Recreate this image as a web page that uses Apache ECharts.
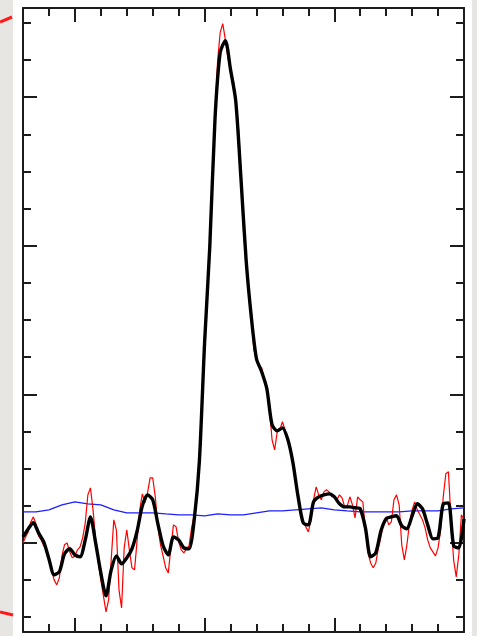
<!DOCTYPE html>
<html>
<head>
<meta charset="utf-8">
<script src="https://cdn.jsdelivr.net/npm/echarts@6.0.0/dist/echarts.min.js"></script>
<style>
  html, body { margin: 0; padding: 0; }
  body {
    width: 477px; height: 636px; overflow: hidden;
    background: linear-gradient(to right, #e8e6e3 13px, #ffffff 13px, #ffffff 472px, #e8e6e3 472px);
  }
  #chart { width: 477px; height: 636px; }
</style>
</head>
<body>
<div id="chart"></div>
<script>
// Raw trace, one value per sample
const rawTrace = [
  0.00, 0.40, 0.74, 1.41, 1.75, 1.28, 0.47, 0.20, -0.20, -0.34,
  -1.14, -1.82, -2.49, -2.83, -2.36, -0.88, -0.13, 0.00, -0.61, -1.01,
  -0.88, -0.47, -0.27, 0.34, 1.35, 3.23, 3.70, 2.22, 0.20, -1.28,
  -2.49, -3.57, -4.65, -3.84, -1.14, 1.55, 0.88, -3.16, -4.38, -0.34,
  0.88, -0.47, -1.68, -1.82, 0.20, 2.22, 3.30, 2.69, 3.37, 4.38,
  4.38, 3.10, 1.08, -0.13, -0.88, -1.68, -2.02, -0.34, 1.21, 1.08,
  0.07, -0.47, -0.67, -0.40, -0.20, 1.01, 1.89, 3.03, 5.45, 9.29,
  13.33, 16.36, 20.07, 23.77, 28.48, 32.39, 34.34, 34.95, 33.87, 32.66,
  31.72, 31.18, 30.03, 28.15, 24.98, 20.94, 18.92, 17.17, 15.15, 13.00,
  12.32, 11.99, 11.78, 10.98, 10.30, 9.09, 6.94, 6.26, 7.47, 7.61,
  8.15, 7.61, 6.94, 6.40, 5.45, 4.38, 3.16, 2.09, 1.41, 1.08,
  0.74, 1.55, 2.90, 3.77, 3.23, 2.90, 3.43, 3.57, 3.43, 3.10,
  3.16, 2.90, 3.23, 3.03, 2.42, 2.49, 3.10, 2.56, 1.68, 3.10,
  2.90, 2.76, 0.88, -0.67, -1.35, -1.68, -1.35, -0.34, 0.40, 1.41,
  1.75, 1.21, 1.41, 2.90, 3.23, 2.56, -0.13, -1.14, -0.13, 1.35,
  2.22, 2.76, 2.22, 1.89, 1.55, 1.01, 0.20, -0.34, -0.61, -0.88,
  -0.34, 0.88, 3.10, 4.65, 4.78, 1.55, -1.14, -2.29, -0.81, 1.89,
  1.55
];

// Smoothed trace, every second sample
const smoothStep = 2;
const smoothTrace = [
  0.40, 0.94, 1.35, 0.67, 0.07, -1.08, -2.15, -1.95, -0.74, -0.40,
  -0.81, -0.94, 0.20, 1.75, 0.00, -2.02, -3.57, -1.82, -0.88, -1.41,
  -1.01, -0.40, 0.81, 2.49, 3.23, 2.90, 1.28, -0.20, -0.81, 0.40,
  0.20, -0.34, -0.40, 1.55, 5.52, 13.47, 19.93, 28.48, 33.00, 33.80,
  31.85, 29.76, 24.58, 19.06, 15.22, 12.39, 11.52, 10.37, 7.95, 7.54,
  7.74, 7.00, 5.45, 3.16, 1.35, 1.21, 2.76, 3.10, 3.23, 3.30,
  3.10, 2.63, 2.42, 2.42, 2.36, 2.29, 1.01, -0.94, -0.67, 0.81,
  1.62, 1.75, 1.82, 1.14, 0.94, 1.82, 2.63, 2.29, 1.21, 0.27,
  0.34, 2.63, 2.69, -0.20, -0.34, 1.62
];

// Baseline, every fifth sample
const baseStep = 5;
const baseline = [
  2.09, 2.09, 2.22, 2.56, 2.76, 2.63, 2.56, 2.22, 2.02, 2.02,
  2.02, 1.95, 1.89, 1.89, 1.82, 1.95, 1.89, 1.89, 2.02, 2.15,
  2.15, 2.22, 2.29, 2.36, 2.22, 2.15, 2.09, 2.09, 2.09, 2.09,
  2.15, 2.15, 2.15, 2.29, 2.36
];

// Axis ticks
const xMinorTicks = [10, 20, 30, 40, 50, 60, 70, 80, 90, 100, 110, 120, 130, 140, 150, 160];
const xMajorTicks = [20, 70, 120];
const yMinorTicks = [-5, -2.5, 0, 2.5, 5, 7.5, 10, 12.5, 15, 17.5, 20, 22.5, 25, 27.5, 30, 32.5, 35];
const yMajorTicks = [0, 10, 20, 30];

const X_MIN = 0, X_MAX = 170, Y_MIN = -6, Y_MAX = 36;

const toPairs = (vals, step) => vals.map((v, j) => [j * step, v]);

const frameStyle = { color: '#1c1c1c', width: 2 };

function xAx(position, ticks, len, showLine) {
  return {
    type: 'value', position, min: X_MIN, max: X_MAX,
    axisLine: { show: showLine, onZero: false, lineStyle: frameStyle },
    axisTick: { show: true, inside: true, length: len, customValues: ticks, lineStyle: frameStyle },
    axisLabel: { show: false },
    splitLine: { show: false }
  };
}
function yAx(position, ticks, len, showLine) {
  return {
    type: 'value', position, min: Y_MIN, max: Y_MAX,
    axisLine: { show: showLine, onZero: false, lineStyle: frameStyle },
    axisTick: { show: true, inside: true, length: len, customValues: ticks, lineStyle: frameStyle },
    axisLabel: { show: false },
    splitLine: { show: false }
  };
}

const chart = echarts.init(document.getElementById('chart'), null, { renderer: 'canvas' });
chart.setOption({
  animation: false,
  backgroundColor: 'transparent',
  grid: { left: 23, right: 13, top: 8, bottom: 4, containLabel: false },
  xAxis: [
    xAx('bottom', xMinorTicks, 8, true),
    xAx('bottom', xMajorTicks, 14, false),
    xAx('top', xMinorTicks, 8, true),
    xAx('top', xMajorTicks, 14, false)
  ],
  yAxis: [
    yAx('left', yMinorTicks, 8, true),
    yAx('left', yMajorTicks, 14, false),
    yAx('right', yMinorTicks, 8, true),
    yAx('right', yMajorTicks, 14, false)
  ],
  series: [
    {
      type: 'line', xAxisIndex: 0, yAxisIndex: 0, z: 2,
      data: toPairs(baseline, baseStep), showSymbol: false,
      lineStyle: { color: '#1f1fff', width: 1.3 }
    },
    {
      type: 'line', xAxisIndex: 0, yAxisIndex: 0, z: 3,
      data: toPairs(rawTrace, 1), showSymbol: false,
      lineStyle: { color: '#ff0000', width: 1.2 }
    },
    {
      type: 'line', xAxisIndex: 0, yAxisIndex: 0, z: 4,
      data: toPairs(smoothTrace, smoothStep), showSymbol: false, smooth: 0.25,
      lineStyle: { color: '#000000', width: 3.4, join: 'round' }
    }
  ],
  graphic: [
    { type: 'line', shape: { x1: 0, y1: 22, x2: 12, y2: 17 }, style: { stroke: '#ff1a1a', lineWidth: 3 } },
    { type: 'line', shape: { x1: 0, y1: 612, x2: 13, y2: 615 }, style: { stroke: '#ff1a1a', lineWidth: 3 } }
  ]
});
</script>
</body>
</html>
